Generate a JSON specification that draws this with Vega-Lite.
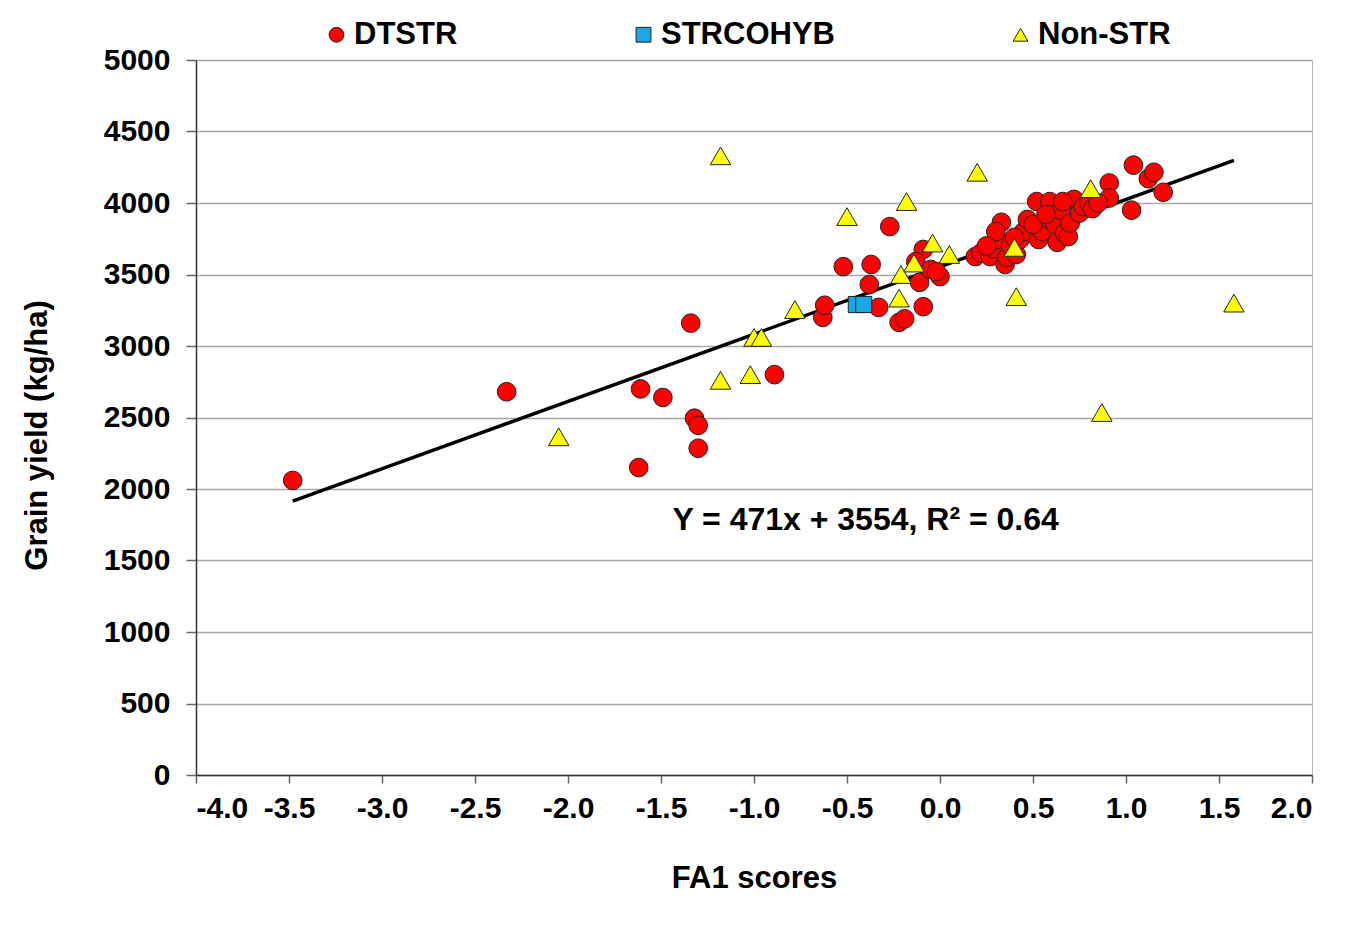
{
  "$schema": "https://vega.github.io/schema/vega-lite/v6.json",
  "description": "Grain yield vs FA1 scores by hybrid group",
  "width": 1116,
  "height": 715,
  "autosize": {"type": "none"},
  "padding": {"left": 196, "top": 60, "right": 46, "bottom": 150},
  "background": "white",
  "config": {
    "font": "Liberation Sans",
    "view": {"stroke": "#bbbbbb", "strokeWidth": 1},
    "axis": {
      "labelFont": "Liberation Sans",
      "titleFont": "Liberation Sans",
      "labelFontWeight": "bold",
      "titleFontWeight": "bold",
      "labelColor": "black",
      "titleColor": "black",
      "domainColor": "#333333",
      "tickColor": "#666666",
      "domainWidth": 1.5,
      "tickWidth": 1.5
    }
  },
  "datasets": {
    "points": [
      {"group": "DTSTR", "fa1": -3.48, "yield": 2060},
      {"group": "DTSTR", "fa1": -2.33, "yield": 2680},
      {"group": "DTSTR", "fa1": -1.62, "yield": 2150},
      {"group": "DTSTR", "fa1": -1.61, "yield": 2700},
      {"group": "DTSTR", "fa1": -1.49, "yield": 2640},
      {"group": "DTSTR", "fa1": -1.34, "yield": 3160},
      {"group": "DTSTR", "fa1": -1.32, "yield": 2495},
      {"group": "DTSTR", "fa1": -1.3, "yield": 2445},
      {"group": "DTSTR", "fa1": -1.3, "yield": 2285},
      {"group": "DTSTR", "fa1": -0.89, "yield": 2800},
      {"group": "DTSTR", "fa1": -0.63, "yield": 3200},
      {"group": "DTSTR", "fa1": -0.62, "yield": 3285},
      {"group": "DTSTR", "fa1": -0.52, "yield": 3555},
      {"group": "DTSTR", "fa1": -0.37, "yield": 3570},
      {"group": "DTSTR", "fa1": -0.38, "yield": 3430},
      {"group": "DTSTR", "fa1": -0.33, "yield": 3270},
      {"group": "DTSTR", "fa1": -0.27, "yield": 3835},
      {"group": "DTSTR", "fa1": -0.22, "yield": 3165},
      {"group": "DTSTR", "fa1": -0.19, "yield": 3190},
      {"group": "DTSTR", "fa1": -0.09, "yield": 3275},
      {"group": "DTSTR", "fa1": -0.09, "yield": 3675},
      {"group": "DTSTR", "fa1": -0.11, "yield": 3445},
      {"group": "DTSTR", "fa1": -0.13, "yield": 3590},
      {"group": "DTSTR", "fa1": -0.05, "yield": 3535},
      {"group": "DTSTR", "fa1": 0.0, "yield": 3485},
      {"group": "DTSTR", "fa1": -0.02, "yield": 3520},
      {"group": "DTSTR", "fa1": 0.19, "yield": 3625},
      {"group": "DTSTR", "fa1": 0.22, "yield": 3650},
      {"group": "DTSTR", "fa1": 0.27, "yield": 3625},
      {"group": "DTSTR", "fa1": 0.29, "yield": 3680},
      {"group": "DTSTR", "fa1": 0.31, "yield": 3745},
      {"group": "DTSTR", "fa1": 0.33, "yield": 3865},
      {"group": "DTSTR", "fa1": 0.3, "yield": 3800},
      {"group": "DTSTR", "fa1": 0.35, "yield": 3570},
      {"group": "DTSTR", "fa1": 0.36, "yield": 3620},
      {"group": "DTSTR", "fa1": 0.38, "yield": 3700},
      {"group": "DTSTR", "fa1": 0.41, "yield": 3640},
      {"group": "DTSTR", "fa1": 0.43, "yield": 3745},
      {"group": "DTSTR", "fa1": 0.45, "yield": 3800},
      {"group": "DTSTR", "fa1": 0.47, "yield": 3885},
      {"group": "DTSTR", "fa1": 0.52, "yield": 4010},
      {"group": "DTSTR", "fa1": 0.53, "yield": 3745},
      {"group": "DTSTR", "fa1": 0.55, "yield": 3800},
      {"group": "DTSTR", "fa1": 0.59, "yield": 4010},
      {"group": "DTSTR", "fa1": 0.59, "yield": 3885},
      {"group": "DTSTR", "fa1": 0.62, "yield": 3850},
      {"group": "DTSTR", "fa1": 0.63, "yield": 3725},
      {"group": "DTSTR", "fa1": 0.65, "yield": 3950},
      {"group": "DTSTR", "fa1": 0.67, "yield": 3790},
      {"group": "DTSTR", "fa1": 0.69, "yield": 3765},
      {"group": "DTSTR", "fa1": 0.7, "yield": 3860},
      {"group": "DTSTR", "fa1": 0.72, "yield": 4025},
      {"group": "DTSTR", "fa1": 0.75, "yield": 3930},
      {"group": "DTSTR", "fa1": 0.77, "yield": 3975},
      {"group": "DTSTR", "fa1": 0.8, "yield": 4000},
      {"group": "DTSTR", "fa1": 0.82, "yield": 3960},
      {"group": "DTSTR", "fa1": 0.91, "yield": 4140},
      {"group": "DTSTR", "fa1": 0.91, "yield": 4035},
      {"group": "DTSTR", "fa1": 1.03, "yield": 3950},
      {"group": "DTSTR", "fa1": 1.04, "yield": 4265},
      {"group": "DTSTR", "fa1": 1.12, "yield": 4170},
      {"group": "DTSTR", "fa1": 1.15, "yield": 4215},
      {"group": "DTSTR", "fa1": 1.2, "yield": 4075},
      {"group": "DTSTR", "fa1": 0.25, "yield": 3700},
      {"group": "DTSTR", "fa1": 0.4, "yield": 3760},
      {"group": "DTSTR", "fa1": 0.5, "yield": 3850},
      {"group": "DTSTR", "fa1": 0.57, "yield": 3920},
      {"group": "DTSTR", "fa1": 0.66, "yield": 4010},
      {"group": "DTSTR", "fa1": 0.85, "yield": 4000},
      {"group": "STRCOHYB", "fa1": -0.45, "yield": 3290},
      {"group": "STRCOHYB", "fa1": -0.41, "yield": 3290},
      {"group": "Non-STR", "fa1": -2.05, "yield": 2365},
      {"group": "Non-STR", "fa1": -1.18, "yield": 4330},
      {"group": "Non-STR", "fa1": -1.18, "yield": 2760},
      {"group": "Non-STR", "fa1": -1.02, "yield": 2800},
      {"group": "Non-STR", "fa1": -1.0, "yield": 3060},
      {"group": "Non-STR", "fa1": -0.96, "yield": 3060},
      {"group": "Non-STR", "fa1": -0.78, "yield": 3255},
      {"group": "Non-STR", "fa1": -0.5, "yield": 3905},
      {"group": "Non-STR", "fa1": -0.18, "yield": 4010},
      {"group": "Non-STR", "fa1": 0.2, "yield": 4215},
      {"group": "Non-STR", "fa1": -0.22, "yield": 3335},
      {"group": "Non-STR", "fa1": -0.21, "yield": 3500},
      {"group": "Non-STR", "fa1": -0.14, "yield": 3580},
      {"group": "Non-STR", "fa1": -0.04, "yield": 3720},
      {"group": "Non-STR", "fa1": 0.05, "yield": 3640},
      {"group": "Non-STR", "fa1": 0.4, "yield": 3690},
      {"group": "Non-STR", "fa1": 0.41, "yield": 3345},
      {"group": "Non-STR", "fa1": 0.81, "yield": 4100},
      {"group": "Non-STR", "fa1": 0.87, "yield": 2535},
      {"group": "Non-STR", "fa1": 1.58, "yield": 3300}
    ],
    "fit": [
      {"fa1": -3.48, "yield": 1915},
      {"fa1": 1.58, "yield": 4298}
    ],
    "note": [
      {"fa1": -0.4, "yield": 1785, "label": "Y = 471x + 3554, R² = 0.64"}
    ]
  },
  "encoding": {
    "x": {
      "field": "fa1",
      "type": "quantitative",
      "scale": {"domain": [-4, 2], "nice": false},
      "axis": {
        "title": "FA1 scores",
        "values": [-4, -3.5, -3, -2.5, -2, -1.5, -1, -0.5, 0, 0.5, 1, 1.5, 2],
        "labelExpr": "replace(format(datum.value, '.1f'), '\u2212', '-')",
        "grid": false,
        "labelFontSize": 30,
        "titleFontSize": 31,
        "tickSize": 8,
        "labelPadding": 10,
        "titlePadding": 40
      }
    },
    "y": {
      "field": "yield",
      "type": "quantitative",
      "scale": {"domain": [0, 5000], "nice": false},
      "axis": {
        "title": "Grain yield (kg/ha)",
        "values": [0, 500, 1000, 1500, 2000, 2500, 3000, 3500, 4000, 4500, 5000],
        "format": "d",
        "grid": true,
        "gridColor": "#a8a8a8",
        "gridWidth": 1.5,
        "labelFontSize": 30,
        "titleFontSize": 31,
        "tickSize": 10,
        "labelPadding": 16,
        "titlePadding": 50,
        "titleY": 375
      }
    }
  },
  "layer": [
    {
      "data": {"name": "fit"},
      "mark": {"type": "line", "color": "black", "strokeWidth": 3.5}
    },
    {
      "data": {"name": "points"},
      "transform": [{"filter": "datum.group === 'DTSTR'"}],
      "mark": {"type": "point", "filled": true, "size": 350, "stroke": "#222222", "strokeWidth": 1, "opacity": 1},
      "encoding": {
        "color": {
          "field": "group",
          "type": "nominal",
          "scale": {
            "domain": ["DTSTR", "STRCOHYB", "Non-STR"],
            "range": ["#ff0000", "#1ba6e4", "#ffff00"]
          },
          "legend": {
            "title": null,
            "orient": "none",
            "direction": "horizontal",
            "legendX": 125,
            "legendY": -41,
            "padding": 0,
            "labelFontSize": 31,
            "labelFontWeight": "bold",
            "labelFont": "Liberation Sans",
            "labelColor": "black",
            "labelLimit": 400,
            "labelOffset": 2,
            "symbolSize": 220,
            "symbolStrokeColor": "#222222",
            "symbolStrokeWidth": 1,
            "columnPadding": 170
          }
        },
        "shape": {
          "field": "group",
          "type": "nominal",
          "scale": {
            "domain": ["DTSTR", "STRCOHYB", "Non-STR"],
            "range": ["circle", "square", "triangle-up"]
          }
        }
      }
    },
    {
      "data": {"name": "points"},
      "transform": [{"filter": "datum.group === 'STRCOHYB'"}],
      "mark": {"type": "point", "filled": true, "size": 260, "stroke": "#222222", "strokeWidth": 1, "opacity": 1},
      "encoding": {
        "color": {"field": "group", "type": "nominal"},
        "shape": {"field": "group", "type": "nominal"}
      }
    },
    {
      "data": {"name": "points"},
      "transform": [{"filter": "datum.group === 'Non-STR'"}],
      "mark": {"type": "point", "filled": true, "size": 420, "stroke": "#222222", "strokeWidth": 1, "opacity": 1},
      "encoding": {
        "color": {"field": "group", "type": "nominal"},
        "shape": {"field": "group", "type": "nominal"}
      }
    },
    {
      "data": {"name": "note"},
      "mark": {"type": "text", "fontSize": 32, "fontWeight": "bold", "font": "Liberation Sans", "color": "black", "align": "center", "baseline": "middle"},
      "encoding": {
        "text": {"field": "label", "type": "nominal"}
      }
    }
  ]
}
